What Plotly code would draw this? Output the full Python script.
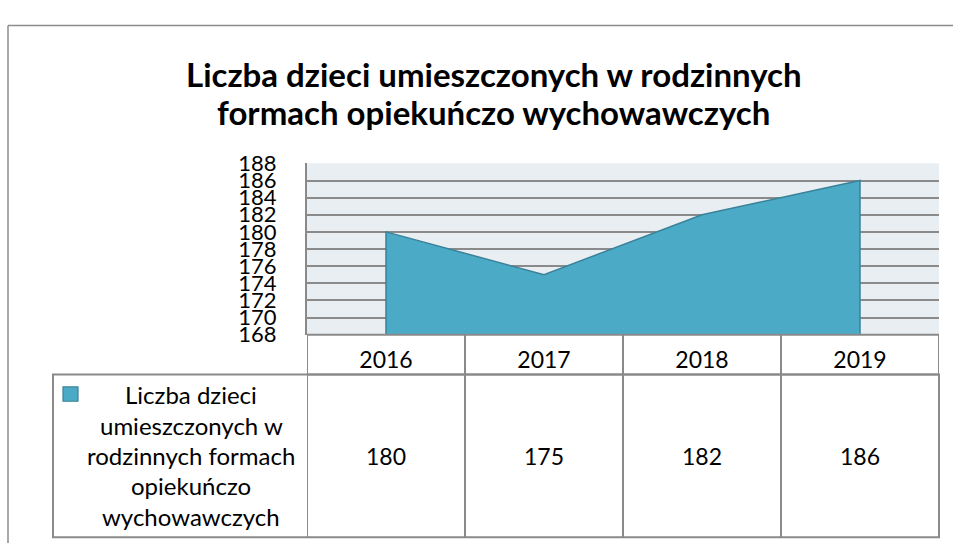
import plotly.graph_objects as go

# ---- data ----
years = ["2016", "2017", "2018", "2019"]
values = [180, 175, 182, 186]
series_lines = ["Liczba dzieci", "umieszczonych w", "rodzinnych formach", "opiekuńczo", "wychowawczych"]
title_lines = ["Liczba dzieci umieszczonych w rodzinnych", "formach opiekuńczo wychowawczych"]
y_min, y_max, y_step = 168, 188, 2

W, H = 953, 556
FONT = "Lato"
GRID = "#8A8A8A"
FILL = "#4BABC6"
EDGE = "#3A8299"


def fx(x):
    return x / W


def fy(y):
    return 1 - y / H


# plot-area geometry (pixels)
PL, PR, PT, PB = 307, 939, 157, 337
CAT_B = 379
TAB_L, TAB_B = 53, 550

n = len(years)
xs = [0] + list(range(n)) + [n - 1]
ys = [y_min] + values + [y_min]

fig = go.Figure()
fig.add_trace(go.Scatter(
    x=xs, y=ys, mode="lines", fill="toself", fillcolor=FILL,
    line=dict(color=EDGE, width=1.5), hoverinfo="skip", showlegend=False,
))

shapes = []
# outer chart border (left/top visible)
shapes.append(dict(type="line", xref="paper", yref="paper", x0=fx(8), x1=fx(8), y0=0, y1=fy(12),
                   line=dict(color="#8C8C8C", width=1.5)))
shapes.append(dict(type="line", xref="paper", yref="paper", x0=fx(8), x1=1, y0=fy(12), y1=fy(12),
                   line=dict(color="#8C8C8C", width=1.5)))
TL = dict(color=GRID, width=2)
# category row
shapes.append(dict(type="rect", xref="x", yref="paper", x0=-0.5, x1=n - 0.5, y0=fy(CAT_B), y1=fy(PB), line=TL))
# value row
shapes.append(dict(type="rect", xref="paper", yref="paper", x0=fx(TAB_L), x1=fx(PR), y0=fy(TAB_B), y1=fy(CAT_B), line=TL))
for i in range(n):
    shapes.append(dict(type="line", xref="x", yref="paper", x0=i - 0.5, x1=i - 0.5, y0=fy(TAB_B), y1=fy(PB), line=TL))
# legend key
shapes.append(dict(type="rect", xref="paper", yref="paper", x0=fx(63), x1=fx(78), y0=fy(407), y1=fy(392),
                   fillcolor=FILL, line=dict(color=EDGE, width=1.2)))

annotations = []
for k, t in enumerate(title_lines):
    annotations.append(dict(text="<b>%s</b>" % t, xref="paper", yref="paper", x=fx(494), y=fy(63 + 40 * k),
                            xanchor="center", yanchor="middle", showarrow=False,
                            font=dict(family=FONT, size=33, color="#000000")))
for k, t in enumerate(series_lines):
    annotations.append(dict(text=t, xref="paper", yref="paper", x=fx(191), y=fy(400 + 32 * k),
                            xanchor="center", yanchor="middle", showarrow=False,
                            font=dict(family=FONT, size=24, color="#000000")))
for i, v in enumerate(values):
    annotations.append(dict(text=str(v), xref="x", yref="paper", x=i, y=fy(465),
                            xanchor="center", yanchor="middle", showarrow=False,
                            font=dict(family=FONT, size=23, color="#000000")))

fig.update_layout(
    width=W, height=H, margin=dict(l=0, r=0, t=0, b=0),
    paper_bgcolor="#FFFFFF", plot_bgcolor="#E8EEF2",
    shapes=shapes, annotations=annotations, showlegend=False,
    xaxis=dict(domain=[fx(PL), fx(PR)], range=[-0.5, n - 0.5], tickvals=list(range(n)), ticktext=years,
               showgrid=False, zeroline=False, showline=False, ticks="", ticklabelstandoff=9,
               tickfont=dict(family=FONT, size=23, color="#000000"), fixedrange=True),
    yaxis=dict(domain=[fy(PB), fy(PT)], range=[y_min, y_max], dtick=y_step, tick0=y_min,
               showgrid=True, gridcolor=GRID, gridwidth=1.5, zeroline=False,
               showline=True, linecolor=GRID, linewidth=2, ticks="", ticklabelstandoff=24,
               tickfont=dict(family=FONT, size=22, color="#000000"), fixedrange=True),
)

fig.write_html("out.html", config={"displayModeBar": False},
               post_script="document.body.style.margin='0';document.body.style.overflow='hidden';")
